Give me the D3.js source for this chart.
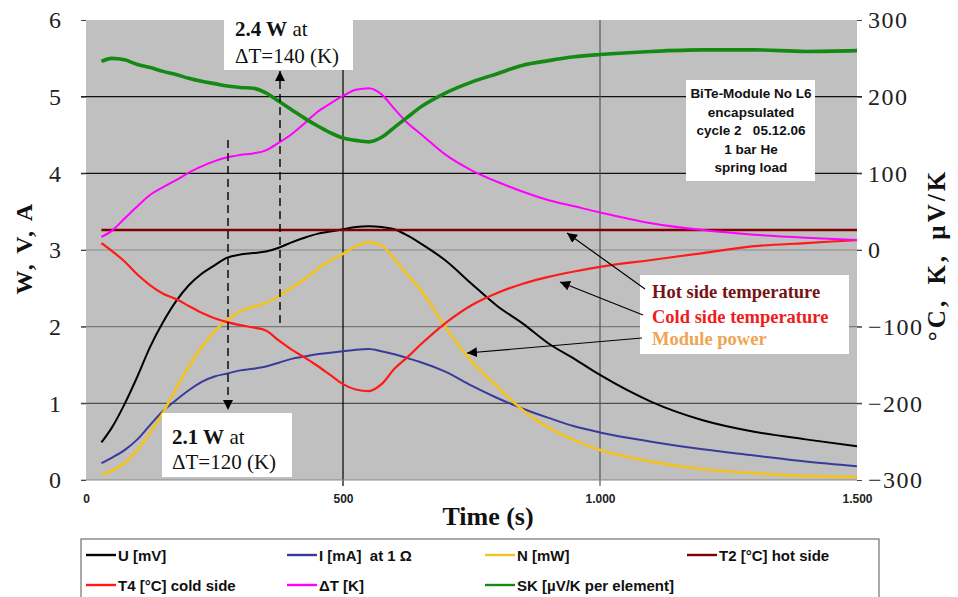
<!DOCTYPE html>
<html><head><meta charset="utf-8">
<script src="https://cdn.jsdelivr.net/npm/d3@7"></script>
<style>body{margin:0;background:#fff}</style>
</head><body><svg id="c" width="958" height="597"></svg>
<script>
// ---- data (time in s) ----
const time = [30,50,75,100,125,150,175,200,225,250,275,300,325,350,375,400,425,450,475,500,525,550,575,600,625,650,700,750,800,850,900,950,1000,1100,1200,1300,1400,1500];
// left axis (W, V, A)
const U_mV = [0.49,0.68,0.99,1.35,1.74,2.06,2.33,2.54,2.69,2.80,2.90,2.94,2.96,2.98,3.03,3.10,3.16,3.21,3.24,3.27,3.30,3.31,3.30,3.27,3.19,3.09,2.86,2.56,2.27,2.04,1.78,1.58,1.37,1.02,0.78,0.63,0.53,0.44];
const I_mA = [0.22,0.29,0.39,0.53,0.72,0.90,1.04,1.17,1.28,1.35,1.39,1.43,1.45,1.48,1.53,1.58,1.61,1.64,1.66,1.68,1.70,1.71,1.68,1.64,1.59,1.54,1.41,1.23,1.07,0.93,0.81,0.70,0.62,0.50,0.40,0.32,0.24,0.18];
const N_mW = [0.07,0.12,0.22,0.39,0.62,0.88,1.19,1.48,1.73,1.94,2.09,2.20,2.26,2.31,2.40,2.51,2.62,2.75,2.86,2.95,3.05,3.10,3.06,2.88,2.68,2.49,1.99,1.55,1.22,0.91,0.68,0.52,0.39,0.24,0.14,0.09,0.05,0.04];
// right axis (°C, K, µV/K)
const T2_hot = [26,26,26,26,26,26,26,26,26,26,26,26,26,26,26,26,26,26,26,26,26,26,26,26,26,26,26,26,26,26,26,26,26,26,26,26,26,26];
const T4_cold = [9,-1,-15,-32,-46,-57,-64,-73,-82,-89,-94,-98,-101,-105,-118,-130,-140,-151,-163,-175,-182,-184,-175,-155,-140,-124,-95,-72,-56,-44,-35,-28,-22,-13,-4,5,9,13];
const dT_K = [17,25,41,57,72,82,91,101,109,116,121,124,126,130,140,151,165,180,191,201,209,211,203,184,166,152,124,104,89,76,65,57,49,35,26,20,16,13];
const SK = [246,250,248,242,238,233,229,224,220,217,214,212,211,205,194,183,172,162,153,146,143,141,147,160,173,186,205,219,230,241,247,252,255,259,261,261,259,260];

const leftTicks = [0,1,2,3,4,5,6];
const rightTicks = [-300,-200,-100,0,100,200,300];
const xTicks = [0,500,1000,1500];
const xTickLabels = ["0","500","1.000","1.500"];
const legendLabels = ["U [mV]","I [mA]  at 1 Ω","N [mW]","T2 [°C] hot side","T4 [°C] cold side","ΔT [K]","SK [µV/K per element]"];
const infoLines = ["BiTe-Module No L6","encapsulated","cycle 2   05.12.06","1 bar He","spring load"];

const SERIF = "'Liberation Serif','Times New Roman',serif";
const SANS = "'Liberation Sans',Arial,sans-serif";

const series = [
  {vals:U_mV, ax:"L", color:"#000000", w:2},
  {vals:I_mA, ax:"L", color:"#3a3a9c", w:2},
  {vals:N_mW, ax:"L", color:"#f2c31c", w:2.6},
  {vals:T2_hot, ax:"R", color:"#800000", w:2.6},
  {vals:T4_cold, ax:"R", color:"#ff1a1a", w:2.2},
  {vals:dT_K, ax:"R", color:"#ff00ff", w:2},
  {vals:SK, ax:"R", color:"#148a14", w:3.6}
];

const svg = d3.select("#c");
const x = d3.scaleLinear().domain([0,1500]).range([86,857]);
const yL = d3.scaleLinear().domain([0,6]).range([480,20]);
const yR = d3.scaleLinear().domain([-300,300]).range([480,20]);

// plot background
svg.append("rect").attr("x",x(0)).attr("y",yL(6)).attr("width",x(1500)-x(0)).attr("height",yL(0)-yL(6)).attr("fill","#c0c0c0");

// grid lines
const gridCol = {1:"#505050",2:"#7a7a7a",3:"#8a8a8a",4:"#111",5:"#111"};
[1,2,3,4,5].forEach(v=>{
  svg.append("line").attr("x1",x(0)-5).attr("x2",x(1500)+5).attr("y1",yL(v)).attr("y2",yL(v))
    .attr("stroke",gridCol[v]).attr("stroke-width",1.2);
});
[[500,"#000"],[1000,"#555"]].forEach(([t,c])=>{
  svg.append("line").attr("x1",x(t)).attr("x2",x(t)).attr("y1",yL(6)).attr("y2",yL(0)+6)
    .attr("stroke",c).attr("stroke-width",1.2);
});
svg.append("line").attr("x1",x(0)-5).attr("x2",x(1500)).attr("y1",yL(0)).attr("y2",yL(0)).attr("stroke","#888").attr("stroke-width",1);

// axes
const gL = svg.append("g").attr("transform",`translate(${x(0)},0)`)
  .call(d3.axisLeft(yL).tickValues(leftTicks).tickFormat(d3.format("d")).tickSize(5).tickPadding(20));
gL.select(".domain").remove();
gL.selectAll("line").attr("stroke","#444");
gL.selectAll("text").attr("font-family",SERIF).attr("font-size",24).attr("fill","#222");

const gR = svg.append("g").attr("transform",`translate(${x(1500)},0)`)
  .call(d3.axisRight(yR).tickValues(rightTicks).tickFormat(d3.format("d")).tickSize(5).tickPadding(6));
gR.select(".domain").remove();
gR.selectAll("line").attr("stroke","#444");
gR.selectAll("text").attr("font-family",SERIF).attr("font-size",24).attr("fill","#222").attr("letter-spacing",1.5);

const gB = svg.append("g").attr("transform",`translate(0,${yL(0)})`)
  .call(d3.axisBottom(x).tickValues(xTicks).tickFormat((d,i)=>xTickLabels[i]).tickSize(0).tickPadding(14));
gB.select(".domain").remove();
gB.selectAll("text").attr("font-family",SANS).attr("font-size",12).attr("font-weight","bold").attr("fill","#222");

// axis titles
svg.append("text").attr("transform","translate(32,248) rotate(-90)").attr("text-anchor","middle")
  .attr("font-family",SERIF).attr("font-weight","bold").attr("font-size",24).attr("letter-spacing",2.5).attr("fill","#111").text("W, V, A");
svg.append("text").attr("transform","translate(945,255) rotate(-90)").attr("text-anchor","middle")
  .attr("font-family",SERIF).attr("font-weight","bold").attr("font-size",25).attr("letter-spacing",3).attr("word-spacing",4).attr("fill","#111").text("°C, K, µV/K");
svg.append("text").attr("x",488).attr("y",525).attr("text-anchor","middle")
  .attr("font-family",SERIF).attr("font-weight","bold").attr("font-size",26).attr("fill","#111").text("Time (s)");

// series lines
series.forEach(s=>{
  const ys = s.ax==="L" ? yL : yR;
  const line = d3.line().x((d,i)=>x(time[i])).y(d=>ys(d)).curve(d3.curveMonotoneX);
  svg.append("path").attr("d",line(s.vals)).attr("fill","none").attr("stroke",s.color)
    .attr("stroke-width",s.w).attr("stroke-linejoin","round");
});

// annotation boxes
function box(x0,y0,w,h){svg.append("rect").attr("x",x0).attr("y",y0).attr("width",w).attr("height",h).attr("fill","#fff");}
box(224,14,129,56);
box(162,413,130,64);
box(686,80,129,101);
box(640,275,209,79);

function powerNote(tx,ty1,ty2,p,dt){
  const t1 = svg.append("text").attr("x",tx).attr("y",ty1).attr("font-family",SERIF).attr("font-size",21).attr("fill","#111");
  t1.append("tspan").attr("font-weight","bold").text(p);
  t1.append("tspan").text(" at");
  svg.append("text").attr("x",tx).attr("y",ty2).attr("font-family",SERIF).attr("font-size",21).attr("fill","#111").text(dt);
}
powerNote(235,36,63,"2.4 W","ΔT=140 (K)");
powerNote(172,444,469,"2.1 W","ΔT=120 (K)");

infoLines.forEach((l,i)=>{
  svg.append("text").attr("x",751).attr("y",98+i*18.5).attr("text-anchor","middle")
    .attr("font-family",SANS).attr("font-weight","bold").attr("font-size",13.5).attr("fill","#111")
    .style("white-space","pre").text(l);
});

const notes = [["Hot side temperature","#741414",298],["Cold side temperature","#ee1c1c",323],["Module power","#f0a455",345]];
notes.forEach(([t,c,y])=>{
  svg.append("text").attr("x",652).attr("y",y).attr("font-family",SERIF).attr("font-weight","bold")
    .attr("font-size",18.5).attr("fill",c).text(t);
});

// arrows
const defs = svg.append("defs");
defs.append("marker").attr("id","ah").attr("viewBox","0 0 10 10").attr("refX",10).attr("refY",5)
  .attr("markerWidth",10).attr("markerHeight",10).attr("markerUnits","userSpaceOnUse").attr("orient","auto")
  .append("path").attr("d","M0,0 L10,5 L0,10 Z").attr("fill","#000");
function arrow(x1,y1,x2,y2,dash){
  svg.append("line").attr("x1",x1).attr("y1",y1).attr("x2",x2).attr("y2",y2)
    .attr("stroke","#000").attr("stroke-width",dash?1.4:1.2)
    .attr("stroke-dasharray",dash?"8,5":null).attr("marker-end","url(#ah)");
}
arrow(228,140,228,410,true);
arrow(280,323,280,71,true);
arrow(645,289,567,233,false);
arrow(643,315,560,282,false);
arrow(642,338,467,353,false);

// legend
svg.append("rect").attr("x",81).attr("y",539).attr("width",798).attr("height",70).attr("fill","#fff").attr("stroke","#555").attr("stroke-width",1);
const legCols = [86,287,485,687];
legendLabels.forEach((lab,i)=>{
  const row = i<4?0:1, col = i<4?i:i-4;
  const lx = legCols[col], ly = 555 + row*30;
  svg.append("line").attr("x1",lx).attr("x2",lx+30).attr("y1",ly).attr("y2",ly).attr("stroke",series[i].color).attr("stroke-width",2.4);
  svg.append("text").attr("x",lx+32).attr("y",ly+6).attr("font-family",SANS).attr("font-weight","bold")
    .attr("font-size",15).attr("fill","#111").style("white-space","pre").text(lab);
});
</script></body></html>
